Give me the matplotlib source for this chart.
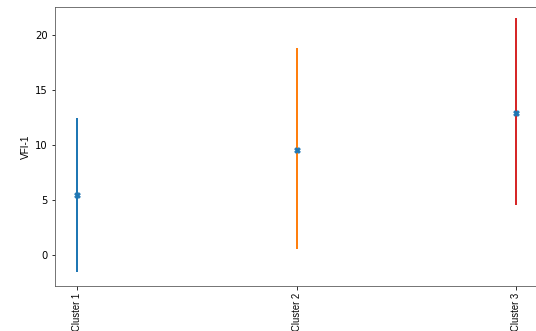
import numpy as np
import matplotlib.pyplot as plt

clusters = ["Cluster 1", "Cluster 2", "Cluster 3"]
means = [5.45, 9.55, 12.9]
lows = [-1.55, 0.55, 4.5]
highs = [12.45, 18.8, 21.5]
colors = ["tab:blue", "tab:orange", "tab:red"]

narrow = ["Liberation Sans", "DejaVu Sans"]

fig = plt.figure(figsize=(536 / 72, 331 / 72), dpi=72)
ax = fig.add_axes([55 / 536, 45 / 331, 483 / 536, 279 / 331])

x = np.arange(len(clusters))
ax.vlines(x, lows, highs, colors=colors, linewidth=2)
ax.scatter(x, means, marker="X", color="tab:blue", s=30, zorder=3)

ax.set_xticks(x)
ax.set_xticklabels(clusters, rotation=90, family=narrow, fontsize=9.5)
ax.set_ylabel("VFI-1", family=narrow, fontsize=10)
ax.set_xlim(-0.1, 2.1)
ax.set_ylim(-2.8, 22.5)
for s in ax.spines.values():
    s.set_color("#555555")

fig.savefig("out.png", dpi=72)
